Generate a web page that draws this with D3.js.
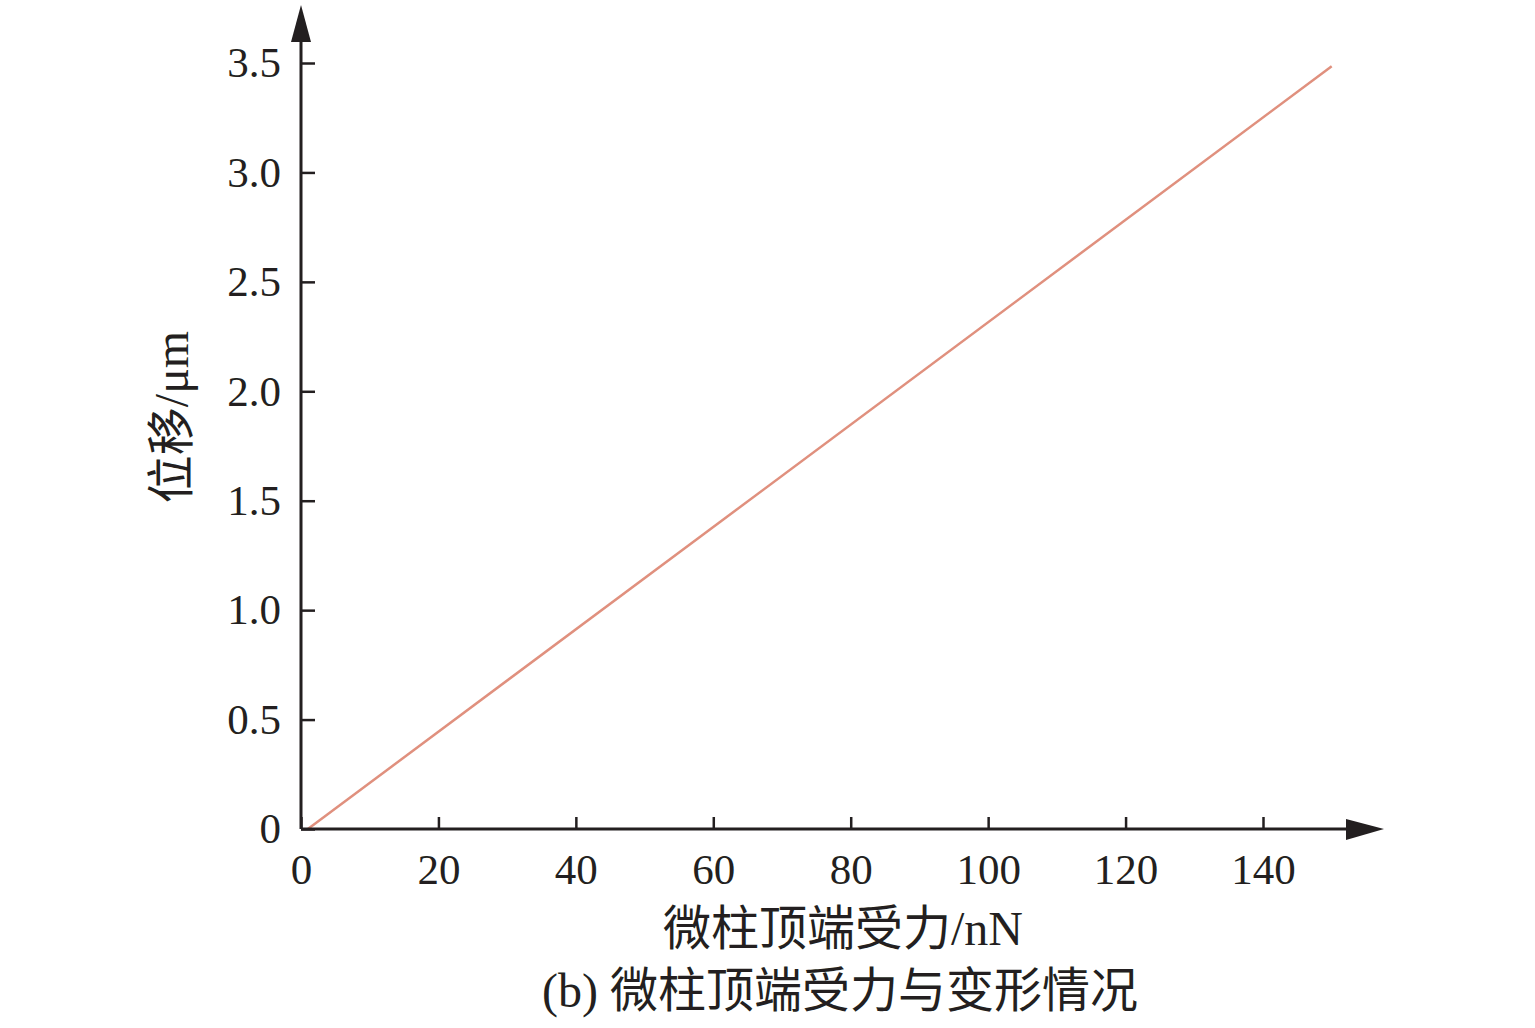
<!DOCTYPE html>
<html><head><meta charset="utf-8">
<script src="https://cdn.jsdelivr.net/npm/d3@7"></script>
<style>body{margin:0;background:#fff}</style>
</head><body>
<svg id="c" width="1535" height="1028"></svg>
<script>
const xTicks = [0,20,40,60,80,100,120,140];
const yTicks = [0,0.5,1.0,1.5,2.0,2.5,3.0,3.5];
const yTickLabels = ["0","0.5","1.0","1.5","2.0","2.5","3.0","3.5"];
const forceN = [1, 150];
const dispUm = [0.0, 3.485];
const xLabel = "微柱顶端受力/nN";
const yLabel = "位移/μm";
const caption = "(b) 微柱顶端受力与变形情况";

const svg = d3.select("#c");
const font = "'Liberation Serif','Times New Roman','Noto Sans CJK SC',serif";
const x = d3.scaleLinear().domain([0,140]).range([301,1263]);
const y = d3.scaleLinear().domain([0,3.5]).range([829,63]);

// line
const pts = forceN.map((f,i)=>[f,dispUm[i]]);
svg.append("path").datum(pts)
  .attr("d", d3.line().x(d=>x(d[0])).y(d=>y(d[1])))
  .attr("fill","none").attr("stroke","#e0907e").attr("stroke-width",2.5);

// axes
const xAxis = d3.axisBottom(x).tickValues(xTicks).tickSize(-12).tickPadding(24).tickFormat(d3.format("d"));
const gx = svg.append("g").attr("transform","translate(0,829)").call(xAxis);
gx.select(".domain").remove();
gx.selectAll(".tick line").attr("stroke","#231f20").attr("stroke-width",2.5);
gx.selectAll("text").attr("font-family",font).attr("font-size",43).attr("fill","#231f20").attr("dy","0.71em");

const yAxis = d3.axisLeft(y).tickValues(yTicks).tickSize(-14).tickPadding(20).tickFormat((d,i)=>yTickLabels[i]);
const gy = svg.append("g").attr("transform","translate(301,0)").call(yAxis);
gy.select(".domain").remove();
gy.selectAll(".tick line").attr("stroke","#231f20").attr("stroke-width",2.5);
gy.selectAll("text").attr("font-family",font).attr("font-size",43).attr("fill","#231f20");

// axis lines with arrows
svg.append("line").attr("x1",301).attr("y1",829).attr("x2",1350).attr("y2",829).attr("stroke","#231f20").attr("stroke-width",3);
svg.append("line").attr("x1",301).attr("y1",829).attr("x2",301).attr("y2",38).attr("stroke","#231f20").attr("stroke-width",3);
svg.append("path").attr("d","M1346,819 L1384,829 L1346,840 Z").attr("fill","#231f20");
svg.append("path").attr("d","M291,42 L301,5 L311,42 Z").attr("fill","#231f20");

// labels
svg.append("text").attr("x",843).attr("y",945).attr("text-anchor","middle")
  .attr("font-family",font).attr("font-size",48).attr("fill","#231f20").text(xLabel);
svg.append("text").attr("transform","translate(188,417) rotate(-90)").attr("text-anchor","middle")
  .attr("font-family",font).attr("font-size",48).attr("fill","#231f20").text(yLabel);
svg.append("text").attr("x",840).attr("y",1007).attr("text-anchor","middle")
  .attr("font-family",font).attr("font-size",48).attr("fill","#231f20").text(caption);
</script>
</body></html>
